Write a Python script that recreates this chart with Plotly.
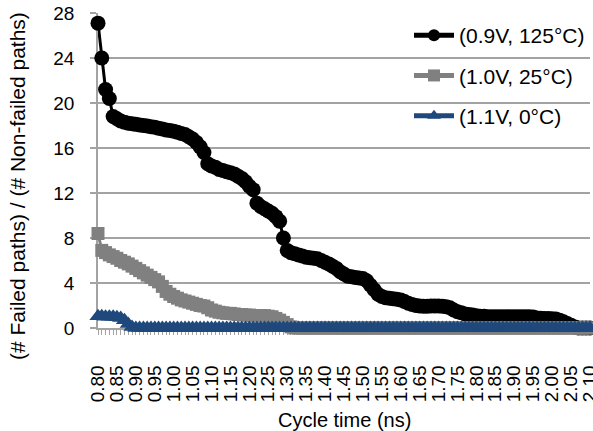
import numpy as np
import plotly.graph_objects as go

# Cycle time categories (ns), one every 0.01 ns from 0.80 to 2.10
cycle_time = [round(0.80 + 0.01 * k, 2) for k in range(131)]

tick_vals = [0.80, 0.85, 0.90, 0.95, 1.00, 1.05, 1.10, 1.15, 1.20, 1.25, 1.30, 1.35, 1.40,
             1.45, 1.50, 1.55, 1.60, 1.65, 1.70, 1.75, 1.80, 1.85, 1.90, 1.95, 2.00, 2.05, 2.10]
tick_text = ["0.80", "0.85", "0.90", "0.95", "1.00", "1.05", "1.10", "1.15", "1.20", "1.25",
             "1.30", "1.35", "1.40", "1.45", "1.50", "1.55", "1.60", "1.65", "1.70", "1.75",
             "1.80", "1.85", "1.90", "1.95", "2.00", "2.05", "2.10"]
y_ticks = [0, 4, 8, 12, 16, 20, 24, 28]

series_names = ["(0.9V, 125°C)", "(1.0V, 25°C)", "(1.1V, 0°C)"]

ratio_09v = [27.1, 24.0, 21.2, 20.4, 18.8, 18.6, 18.4, 18.3, 18.2, 18.15,
             18.1, 18.05, 18.0, 17.95, 17.9, 17.85, 17.75, 17.7, 17.6, 17.55,
             17.5, 17.4, 17.3, 17.2, 17.0, 16.8, 16.5, 16.1, 15.6, 14.6,
             14.4, 14.3, 14.1, 14.0, 13.9, 13.8, 13.7, 13.5, 13.3, 13.0,
             12.6, 12.3, 11.1, 10.8, 10.6, 10.4, 10.2, 9.9, 9.5, 8.0,
             6.9, 6.7, 6.6, 6.5, 6.4, 6.3, 6.25, 6.2, 6.15, 6.0,
             5.85, 5.7, 5.5, 5.3, 5.0, 4.8, 4.6, 4.55, 4.5, 4.45,
             4.4, 4.2, 3.8, 3.4, 3.0, 2.8, 2.7, 2.65, 2.6, 2.55,
             2.5, 2.35, 2.2, 2.1, 2.0, 1.95, 1.93, 1.93, 1.95, 1.95,
             1.95, 1.93, 1.9, 1.8, 1.6, 1.45, 1.35, 1.25, 1.2, 1.15,
             1.1, 1.05, 1.05, 1.0, 1.0, 1.0, 1.0, 1.0, 1.0, 1.0,
             1.0, 1.0, 1.0, 1.0, 1.0, 0.97, 0.9, 0.87, 0.85, 0.85,
             0.83, 0.8, 0.7, 0.55, 0.4, 0.25, 0.1, 0, 0, 0, 0]

ratio_10v = [8.4, 6.9, 6.7, 6.5, 6.35, 6.2, 6.0, 5.85, 5.7, 5.5,
             5.3, 5.1, 4.9, 4.7, 4.5, 4.3, 4.1, 3.7, 3.25, 3.0,
             2.8, 2.65, 2.5, 2.4, 2.3, 2.2, 2.1, 2.0, 1.95, 1.8,
             1.6, 1.5, 1.4, 1.35, 1.3, 1.3, 1.25, 1.2, 1.2, 1.15,
             1.15, 1.1, 1.1, 1.1, 1.1, 1.05, 1.0, 0.85, 0.7, 0.5,
             0.3, 0.1, 0, 0, 0, 0, 0, 0, 0, 0,
             0, 0, 0, 0, 0, 0, 0, 0, 0, 0,
             0, 0, 0, 0, 0, 0, 0, 0, 0, 0,
             0, 0, 0, 0, 0, 0, 0, 0, 0, 0,
             0, 0, 0, 0, 0, 0, 0, 0, 0, 0,
             0, 0, 0, 0, 0, 0, 0, 0, 0, 0,
             0, 0, 0, 0, 0, 0, 0, 0, 0, 0,
             0, 0, 0, 0, 0, 0, 0, 0, 0, 0, 0]

ratio_11v = [1.05, 1.05, 1.0, 1.0, 1.0, 0.95, 0.9, 0.7, 0.35, 0.1,
             0, 0, 0, 0, 0, 0, 0, 0, 0, 0,
             0, 0, 0, 0, 0, 0, 0, 0, 0, 0,
             0, 0, 0, 0, 0, 0, 0, 0, 0, 0,
             0, 0, 0, 0, 0, 0, 0, 0, 0, 0,
             0, 0, 0, 0, 0, 0, 0, 0, 0, 0,
             0, 0, 0, 0, 0, 0, 0, 0, 0, 0,
             0, 0, 0, 0, 0, 0, 0, 0, 0, 0,
             0, 0, 0, 0, 0, 0, 0, 0, 0, 0,
             0, 0, 0, 0, 0, 0, 0, 0, 0, 0,
             0, 0, 0, 0, 0, 0, 0, 0, 0, 0,
             0, 0, 0, 0, 0, 0, 0, 0, 0, 0,
             0, 0, 0, 0, 0, 0, 0, 0, 0, 0, 0]

FONT = "Liberation Sans, Arial, sans-serif"
GRID = "#a3a3a3"

fig = go.Figure()
styles = [
    (ratio_09v, "#000000", "circle", 15),
    (ratio_10v, "#808080", "square", 13),
    (ratio_11v, "#1F497D", "triangle-up", 15),
]
for name, (vals, col, sym, sz) in zip(series_names, styles):
    fig.add_trace(go.Scatter(
        x=cycle_time, y=vals, name=name, mode="lines+markers",
        line=dict(color=col, width=3),
        marker=dict(color=col, symbol=sym, size=sz, line=dict(width=0)),
        cliponaxis=False, legendgroup=name,
    ))

fig.update_layout(
    width=593, height=431, autosize=False,
    margin=dict(l=98, r=3, t=13, b=103, pad=0),
    paper_bgcolor="white", plot_bgcolor="white",
    font=dict(family=FONT, size=19, color="#000000"),
    showlegend=True,
    legend=dict(x=1, xanchor="right", y=1 - 2 / 315, yanchor="top",
                bgcolor="rgba(0,0,0,0)", font=dict(size=21),
                tracegroupgap=10, itemsizing="constant", itemwidth=40),
    xaxis=dict(
        range=[0.80, 2.1002], tickmode="array", tickvals=tick_vals, ticktext=tick_text,
        tickangle=-90, showgrid=False, showline=True, linecolor=GRID, linewidth=1.5,
        ticks="outside", ticklen=5, tickcolor=GRID, tickwidth=1.2,
        minor=dict(tick0=0.80, dtick=0.01, ticks="outside", ticklen=5, tickcolor=GRID,
                   tickwidth=1.2, showgrid=False),
        ticklabelstandoff=23, ticklabeloverflow="allow", automargin=False,
        zeroline=False, layer="below traces", tickfont=dict(size=19),
    ),
    yaxis=dict(
        range=[0, 28], tickmode="array", tickvals=y_ticks,
        showgrid=True, gridcolor=GRID, gridwidth=1.5,
        showline=True, linecolor=GRID, linewidth=1.5,
        ticks="outside", ticklen=6, tickcolor=GRID, tickwidth=1.5,
        ticklabelstandoff=12, automargin=False, zeroline=False, layer="below traces",
        tickfont=dict(size=19),
    ),
    annotations=[
        dict(text="Cycle time (ns)", xref="paper", yref="paper",
             x=0.5, y=(328 - 420) / 315, xanchor="center", yanchor="middle",
             showarrow=False, font=dict(size=20)),
        dict(text="(# Failed paths) / (# Non-failed paths)", xref="paper", yref="paper",
             x=(17 - 98) / 492, y=(328 - 186) / 315, xanchor="center", yanchor="middle",
             textangle=-90, showarrow=False, font=dict(size=21)),
    ],
)

fig.write_html("out.html", config={"displayModeBar": False},
               post_script="document.body.style.margin='0';")
